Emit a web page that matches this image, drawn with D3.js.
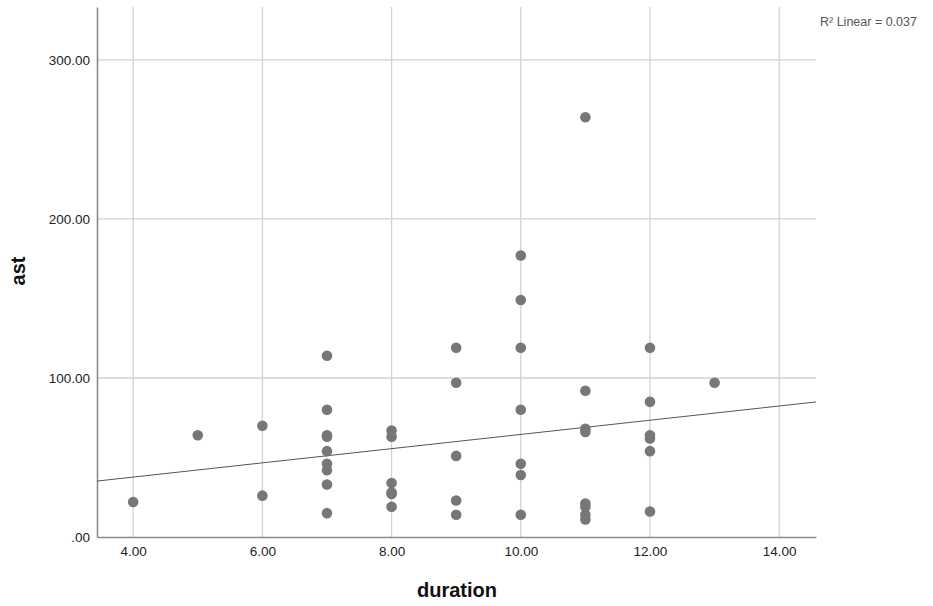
<!DOCTYPE html>
<html lang="en">
<head>
    <meta charset="UTF-8">
    <title>ast by duration</title>
    <script src="https://d3js.org/d3.v7.min.js"></script>
    <style>
        body { margin: 0; background: #fff; }
        svg { display: block; font-family: "Liberation Sans", Arial, sans-serif; }
        .grid line { stroke: #d2d2d2; stroke-width: 1.3; }
        .tick-label { font-size: 13.5px; fill: #222; }
        .axis-title { font-size: 20px; font-weight: bold; fill: #111; }
    </style>
</head>
<body>
<svg id="chart" width="933" height="606"></svg>
<script>
    // duration (x) and ast (y) pairs
    const duration = [4, 5, 6, 6,
        7, 7, 7, 7, 7, 7, 7, 7, 7,
        8, 8, 8, 8, 8, 8,
        9, 9, 9, 9, 9,
        10, 10, 10, 10, 10, 10, 10,
        11, 11, 11, 11, 11, 11, 11, 11,
        12, 12, 12, 12, 12, 12,
        13];
    const ast = [22, 64, 70, 26,
        114, 80, 64, 63, 54, 46, 42, 33, 15,
        67, 63, 34, 28, 27, 19,
        119, 97, 51, 23, 14,
        177, 149, 119, 80, 46, 39, 14,
        264, 92, 68, 66, 21, 19, 14, 11,
        119, 85, 64, 62, 54, 16,
        97];

    const xTicks = [4, 6, 8, 10, 12, 14];
    const yTicks = [0, 100, 200, 300];
    // linear fit as drawn in the reference
    const fitIntercept = 19.8;
    const fitSlope = 4.47;
    const r2Label = 'R\u00b2 Linear = 0.037';

    const margin = { top: 7, right: 117, bottom: 69, left: 97 };
    const W = 933, H = 606;
    const width = W - margin.left - margin.right;
    const height = H - margin.top - margin.bottom;

    const svg = d3.select('#chart');
    const g = svg.append('g').attr('transform', `translate(${margin.left},${margin.top})`);

    const x = d3.scaleLinear().domain([3.44, 14.57]).range([0, width]);
    const y = d3.scaleLinear().domain([0, 333.3]).range([height, 0]);

    const fmt = v => d3.format('.2f')(v).replace(/^0\./, '.');

    // grid
    const grid = g.append('g').attr('class', 'grid');
    grid.selectAll('.vx').data(xTicks).enter().append('line')
        .attr('x1', d => x(d)).attr('x2', d => x(d))
        .attr('y1', 0).attr('y2', height);
    grid.selectAll('.hy').data(yTicks.filter(d => d > 0)).enter().append('line')
        .attr('x1', 0).attr('x2', width)
        .attr('y1', d => y(d)).attr('y2', d => y(d));

    // axes
    const xAxis = g.append('g')
        .attr('transform', `translate(0,${height})`)
        .call(d3.axisBottom(x).tickValues(xTicks).tickSize(0).tickPadding(9).tickFormat(fmt));
    const yAxis = g.append('g')
        .call(d3.axisLeft(y).tickValues(yTicks).tickSize(0).tickPadding(7).tickFormat(fmt));
    [xAxis, yAxis].forEach(a => {
        a.select('.domain').attr('stroke', '#8a8a8a').attr('stroke-width', 1.6);
        a.selectAll('text').attr('class', 'tick-label').attr('font-size', null).attr('font-family', null);
    });

    // fit line
    g.append('line')
        .attr('x1', x(3.44)).attr('y1', y(fitIntercept + fitSlope * 3.44))
        .attr('x2', x(14.57)).attr('y2', y(fitIntercept + fitSlope * 14.57))
        .attr('stroke', '#555').attr('stroke-width', 1);

    // points
    g.selectAll('.pt').data(duration).enter().append('circle')
        .attr('cx', d => x(d))
        .attr('cy', (d, i) => y(ast[i]))
        .attr('r', 5.3)
        .attr('fill', '#777');

    // titles
    svg.append('text').attr('class', 'axis-title')
        .attr('x', margin.left + 360).attr('y', 597)
        .attr('text-anchor', 'middle').text('duration');
    svg.append('text').attr('class', 'axis-title')
        .attr('transform', 'translate(25,271) rotate(-90)')
        .attr('text-anchor', 'middle').text('ast');

    svg.append('text')
        .attr('x', 820).attr('y', 26)
        .attr('font-size', 12.5).attr('fill', '#555')
        .text(r2Label);
</script>
</body>
</html>
